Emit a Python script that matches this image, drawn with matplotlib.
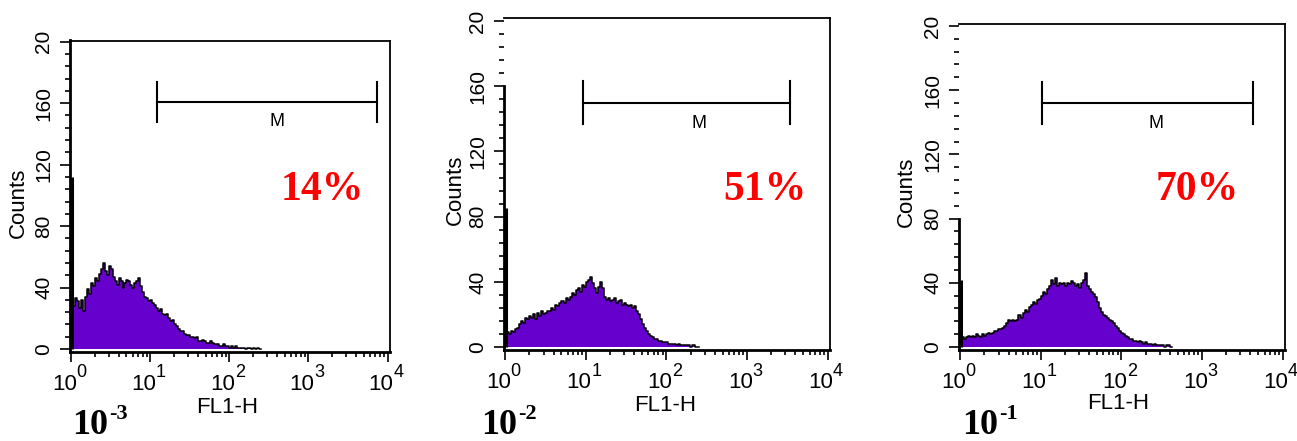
import numpy as np
import matplotlib
matplotlib.use("Agg")
import matplotlib.pyplot as plt
from matplotlib.ticker import FixedLocator, LogLocator, NullFormatter

plt.rcParams["font.family"] = ["Liberation Sans", "DejaVu Sans"]

# histogram counts, bins of 0.025 decade starting at 10^0
bin_width = 0.025
counts_1 = [24, 28, 33, 31, 27, 32, 25, 34, 39, 36, 43, 41, 46, 44, 49, 52, 56, 51, 48, 54,
            52, 47, 44, 42, 46, 44, 40, 43, 45, 44, 42, 40, 43, 44, 46, 41, 37, 34, 33, 31,
            32, 30, 29, 27, 25, 26, 23, 22, 23, 20, 18, 19, 16, 15, 13, 12, 12, 10, 9, 9,
            8, 8, 7, 8, 5, 5, 6, 5, 4, 4, 5, 4, 3, 3, 3, 2, 2, 3, 2, 2,
            1, 2, 1, 2, 1, 1, 1, 1, 0, 1, 1, 0, 1, 0, 1, 0]
counts_2 = [10, 9, 8, 10, 9, 11, 12, 14, 16, 15, 18, 17, 19, 18, 20, 17, 21, 19, 22, 20,
            21, 22, 22, 24, 23, 26, 25, 27, 28, 27, 30, 29, 31, 33, 32, 35, 36, 34, 38, 37,
            40, 41, 43, 39, 36, 33, 37, 40, 36, 31, 29, 30, 28, 29, 30, 27, 28, 29, 26, 27,
            26, 25, 26, 24, 25, 22, 20, 17, 14, 12, 10, 8, 7, 6, 5, 5, 4, 4, 3, 3,
            3, 2, 2, 2, 2, 1, 2, 1, 1, 1, 1, 1, 0, 1, 0, 0]
counts_3 = [5, 6, 5, 6, 7, 6, 7, 6, 8, 7, 6, 8, 7, 8, 9, 8, 9, 10, 10, 11,
            11, 12, 13, 15, 17, 16, 17, 16, 17, 20, 18, 21, 23, 22, 25, 26, 28, 27, 29, 30,
            32, 34, 33, 36, 38, 42, 39, 43, 38, 40, 39, 40, 38, 40, 39, 41, 40, 38, 39, 37,
            40, 42, 46, 38, 36, 34, 33, 31, 28, 24, 22, 20, 19, 18, 17, 16, 15, 13, 12, 10,
            9, 8, 7, 6, 5, 5, 4, 4, 3, 4, 3, 2, 3, 2, 2, 1, 2, 1, 1, 1,
            1, 0, 1, 1, 0]
first_channel = [112, 85, 42]          # pile-up in the lowest channel
left_spine_top = [201, 160, 80]        # how far the solid left axis line reaches

marker_lo = [12.2, 9.3, 10.4]
marker_hi = [7250, 3470, 4300]
marker_y = [161, 150, 152]
percents = ["14%", "51%", "70%"]
dilution_exp = ["-3", "-2", "-1"]

ytick_vals = [0, 40, 80, 120, 160, 200]
ytick_text = ["0", "40", "80", "120", "160", "20"]
xtick_vals = [1, 10, 100, 1000, 10000]
xtick_exp = ["0", "1", "2", "3", "4"]

purple = "#6600cc"

fig = plt.figure(figsize=(12.97, 4.41), dpi=100)
boxes = [
    [0.0540, 0.2025, 0.2467, 0.7052],
    [0.3886, 0.2063, 0.2513, 0.7528],
    [0.7394, 0.2063, 0.2513, 0.7392],
]
ylims = [(-1.7, 200.6), (-1.8, 201.8), (-1.9, 201.2)]
counts_lbl = [(-0.163, 0.478), (-0.150, 0.482), (-0.160, 0.485)]
fl_lbl = [(0.49, -0.178), (0.494, -0.166), (0.488, -0.163)]
pct_pos = [(322, 190), (765, 190), (1197, 190)]
dil_pos = [(72, 434), (481, 434), (962, 434)]
m_x = [2.6, 2.41, 2.43]

for i, counts in enumerate([counts_1, counts_2, counts_3]):
    ax = fig.add_axes(boxes[i])
    counts = np.array(counts, dtype=float)
    edges = 10 ** (np.arange(len(counts) + 1) * bin_width)
    vals = np.append(counts, counts[-1])
    ax.fill_between(edges, vals, step="post", color=purple, lw=0)
    ax.step(edges, vals, where="post", color="black", lw=1.1)
    ax.vlines(10 ** 0.012, 0, first_channel[i], color="black", lw=2.2)

    ax.set_xscale("log")
    ax.set_xlim(10 ** -0.013, 10 ** 4.03)
    ax.set_ylim(*ylims[i])

    ax.xaxis.set_major_locator(FixedLocator(xtick_vals))
    ax.xaxis.set_major_formatter(NullFormatter())
    ax.xaxis.set_minor_locator(LogLocator(base=10, subs=np.arange(2, 10)))
    ax.xaxis.set_minor_formatter(NullFormatter())
    for xv, ex in zip(xtick_vals, xtick_exp):
        ax.annotate("10", xy=(xv, 0), xycoords=("data", "axes fraction"),
                    xytext=(4.2, -27.4), textcoords="offset points",
                    ha="right", va="baseline", fontsize=16, annotation_clip=False)
        ax.annotate(ex, xy=(xv, 0), xycoords=("data", "axes fraction"),
                    xytext=(4.0, -18.5), textcoords="offset points",
                    ha="left", va="baseline", fontsize=13, annotation_clip=False)

    ax.set_yticks(ytick_vals)
    ax.set_yticklabels(ytick_text, rotation=90, va="center", fontsize=15)
    ax.yaxis.set_minor_locator(FixedLocator(np.arange(0, 201, 8)))
    ax.tick_params(which="major", length=7, width=1.2, direction="out")
    ax.tick_params(which="minor", length=3.5, width=1.2, direction="out")
    ax.tick_params(axis="y", which="major", pad=5)

    for s in ax.spines.values():
        s.set_linewidth(1.3)
    ax.spines["left"].set_linewidth(2)
    ax.spines["bottom"].set_linewidth(2)
    ax.spines["left"].set_bounds(ylims[i][0], left_spine_top[i])

    # marker gate M
    ax.plot([marker_lo[i], marker_hi[i]], [marker_y[i], marker_y[i]], color="black", lw=1.5)
    for xv in (marker_lo[i], marker_hi[i]):
        ax.plot([xv, xv], [marker_y[i] - 13, marker_y[i] + 13], color="black", lw=1.5)
    ax.text(10 ** m_x[i], marker_y[i] - 13, "M", ha="center", va="center", fontsize=13)

    ax.text(*counts_lbl[i], "Counts", rotation=90, ha="center", va="center",
            fontsize=16, transform=ax.transAxes)
    ax.text(*fl_lbl[i], "FL1-H", ha="center", va="center", fontsize=16,
            transform=ax.transAxes)

    px, py = pct_pos[i]
    fig.text(px / 1297, 1 - py / 441, percents[i], color="red", ha="center", va="center",
             fontsize=30, fontweight="bold", family="Liberation Serif")
    dx, dy = dil_pos[i]
    fig.text(dx / 1297, 1 - dy / 441, "10", ha="left", va="baseline", fontsize=26,
             fontweight="bold", family="Liberation Serif")
    fig.text((dx + 37) / 1297, 1 - (dy - 15) / 441, dilution_exp[i], ha="left",
             va="baseline", fontsize=16, fontweight="bold", family="Liberation Serif")

fig.savefig("out.png", dpi=100)
